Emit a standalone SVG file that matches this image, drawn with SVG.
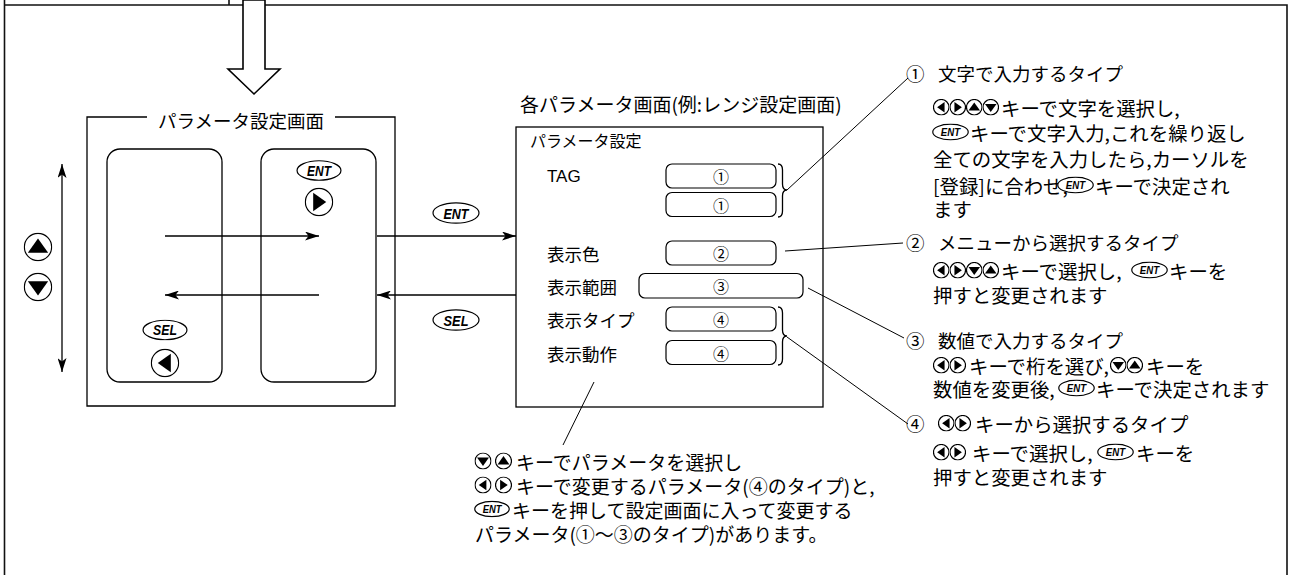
<svg xmlns="http://www.w3.org/2000/svg" xmlns:xlink="http://www.w3.org/1999/xlink" width="1289" height="575" viewBox="0 0 1289 575">
<style>
.t{font-family:"Noto Sans CJK JP","Noto Sans",sans-serif;font-size:18.5px;fill:#000;dominant-baseline:central}
.bd{font-size:19.4px}
.b{font-size:19px}
.s{font-size:17.5px}
.n{font-size:16px;text-anchor:middle}
.lat{font-family:"Liberation Sans",Arial,sans-serif;font-size:17px;fill:#000;dominant-baseline:central}
.ln{stroke:#000;fill:none;stroke-width:1.3}
.fr{stroke:#111;fill:none;stroke-width:1.6}
.fld{stroke:#000;fill:#fff;stroke-width:1.2}
.key{font-family:"Liberation Sans",Arial,sans-serif;font-weight:bold;font-style:italic;font-size:15px;text-anchor:middle;dominant-baseline:central;fill:#000}
</style>
<defs>
<marker id="ah" viewBox="0 0 14 9" refX="14" refY="4.5" markerWidth="14" markerHeight="9" markerUnits="userSpaceOnUse" orient="auto-start-reverse"><path d="M0,0 L14,4.5 L0,9 L3.5,4.5 Z" fill="#000"/></marker>
<symbol id="kU" viewBox="-10 -10 20 20"><circle r="9.4" fill="#fff" stroke="#000" stroke-width="1.2" vector-effect="non-scaling-stroke"/><path d="M0,-5.8 L7,4 L-7,4Z" fill="#000"/></symbol>
<symbol id="kD" viewBox="-10 -10 20 20"><circle r="9.4" fill="#fff" stroke="#000" stroke-width="1.2" vector-effect="non-scaling-stroke"/><path d="M0,5.8 L7,-4 L-7,-4Z" fill="#000"/></symbol>
<symbol id="kL" viewBox="-10 -10 20 20"><circle r="9.4" fill="#fff" stroke="#000" stroke-width="1.2" vector-effect="non-scaling-stroke"/><path d="M-5,0 L4,-6.3 L4,6.3Z" fill="#000"/></symbol>
<symbol id="kR" viewBox="-10 -10 20 20"><circle r="9.4" fill="#fff" stroke="#000" stroke-width="1.2" vector-effect="non-scaling-stroke"/><path d="M5,0 L-4,-6.3 L-4,6.3Z" fill="#000"/></symbol>
<symbol id="kE" viewBox="-24 -11 48 22"><ellipse rx="23" ry="10.2" fill="#fff" stroke="#000" stroke-width="1.2" vector-effect="non-scaling-stroke"/><text class="key" x="0" y="0.5" textLength="25" lengthAdjust="spacingAndGlyphs">ENT</text></symbol>
<symbol id="kS" viewBox="-24 -11 48 22"><ellipse rx="23" ry="10.2" fill="#fff" stroke="#000" stroke-width="1.2" vector-effect="non-scaling-stroke"/><text class="key" x="0" y="0.5" textLength="25" lengthAdjust="spacingAndGlyphs">SEL</text></symbol>
</defs>
<rect width="1289" height="575" fill="#fff"/>

<g id="frame">
<path class="fr" d="M4.5,0 V575 M4.5,5 H1287 V575 M229,0 V5"/>
<polygon points="243,0 243,69 228,69 254,94 280,69 265,69 265,0" fill="#fff" stroke="#000" stroke-width="1.6"/>
</g>

<g id="param-screen">
<path class="ln" d="M147,117 H87 V406 H395 V117 H335"/>
<text class="t" x="241" y="120" text-anchor="middle">パラメータ設定画面</text>
<rect class="ln" x="107" y="149" width="115" height="233" rx="13"/>
<rect class="ln" x="261" y="149" width="115" height="233" rx="13"/>
<use href="#kE" x="296" y="160" width="46" height="21"/>
<use href="#kR" x="304.5" y="187.5" width="29" height="29"/>
<use href="#kS" x="142" y="319.5" width="46" height="21"/>
<use href="#kL" x="150.5" y="348.5" width="29" height="29"/>
</g>

<g id="updown-keys">
<use href="#kU" x="23.5" y="232.5" width="29" height="29"/>
<use href="#kD" x="23.5" y="272.5" width="29" height="29"/>
</g>

<g id="range-screen">
<text class="t" x="520" y="103" style="font-size:19px">各パラメータ画面(例:レンジ設定画面)</text>
<rect class="ln" x="516" y="127" width="307" height="280"/>
<text class="t" x="530" y="140" style="font-size:16px">パラメータ設定</text>
<text class="lat" x="547" y="176">TAG</text>
<text class="t s" x="547" y="253">表示色</text>
<text class="t s" x="547" y="286">表示範囲</text>
<text class="t s" x="547" y="319">表示タイプ</text>
<text class="t s" x="547" y="353">表示動作</text>
<rect class="fld" x="666" y="164" width="110" height="24" rx="6"/>
<rect class="fld" x="666" y="192.5" width="110" height="24" rx="6"/>
<rect class="fld" x="666" y="241" width="110" height="24" rx="6"/>
<rect class="fld" x="639" y="273.5" width="164" height="24.5" rx="6"/>
<rect class="fld" x="666" y="307" width="110" height="24" rx="6"/>
<rect class="fld" x="666" y="340.5" width="110" height="24" rx="6"/>
<text class="t n" x="721" y="176">①</text>
<text class="t n" x="721" y="204.5">①</text>
<text class="t n" x="721" y="253">②</text>
<text class="t n" x="721" y="285.5">③</text>
<text class="t n" x="721" y="319">④</text>
<text class="t n" x="721" y="352.5">④</text>
<path class="ln" stroke-width="1.1" d="M778,164 Q782.5,164 782.5,170 V184 Q782.5,190 787,190 Q782.5,190 782.5,196 V211 Q782.5,217 778,217"/>
<path class="ln" stroke-width="1.1" d="M778,307 Q782.5,307 782.5,313 V330 Q782.5,336 787,336 Q782.5,336 782.5,342 V359 Q782.5,365 778,365"/>
</g>

<g id="connectors">
<line class="ln" x1="165" y1="236" x2="319" y2="236" marker-end="url(#ah)"/>
<line class="ln" x1="319" y1="295" x2="165" y2="295" marker-end="url(#ah)"/>
<line class="ln" x1="377" y1="236" x2="516" y2="236" marker-end="url(#ah)"/>
<line class="ln" x1="516" y1="295" x2="377" y2="295" marker-end="url(#ah)"/>
<line class="ln" x1="62" y1="164" x2="62" y2="372" marker-start="url(#ah)" marker-end="url(#ah)"/>
<use href="#kE" x="432" y="202" width="48" height="22"/>
<use href="#kS" x="432" y="309" width="48" height="22"/>
<g stroke="#000" stroke-width="1" fill="none">
<line x1="787" y1="190" x2="908" y2="78"/>
<line x1="785" y1="251" x2="903" y2="243"/>
<line x1="808" y1="288" x2="904" y2="338"/>
<line x1="787" y1="337" x2="908" y2="424"/>
<line x1="594" y1="382" x2="563" y2="445"/>
</g>
</g>

<g id="note-1">
<text class="t" x="906" y="73">①</text>
<text class="t" x="938" y="73">文字で入力するタイプ</text>
<use href="#kL" x="933" y="99" width="16.5" height="16.5"/>
<use href="#kR" x="949.5" y="99" width="16.5" height="16.5"/>
<use href="#kU" x="966" y="99" width="16.5" height="16.5"/>
<use href="#kD" x="982.5" y="99" width="16.5" height="16.5"/>
<text class="t bd" x="1001" y="107">キーで文字を選択し,</text>
<use href="#kE" x="932" y="123.5" width="37" height="17"/>
<text class="t bd" x="970" y="132">キーで文字入力,これを繰り返し</text>
<text class="t bd" x="933" y="158">全ての文字を入力したら,カーソルを</text>
<text class="t bd" x="933" y="185">[登録]に合わせ,</text>
<use href="#kE" x="1057" y="176.5" width="37" height="17"/>
<text class="t bd" x="1095" y="185">キーで決定され</text>
<text class="t bd" x="933" y="208">ます</text>
</g>

<g id="note-2">
<text class="t" x="906" y="242">②</text>
<text class="t" x="938" y="242">メニューから選択するタイプ</text>
<use href="#kL" x="933" y="262" width="16.5" height="16.5"/>
<use href="#kR" x="949.5" y="262" width="16.5" height="16.5"/>
<use href="#kD" x="966" y="262" width="16.5" height="16.5"/>
<use href="#kU" x="982.5" y="262" width="16.5" height="16.5"/>
<text class="t bd" x="1001" y="270">キーで選択し,</text>
<use href="#kE" x="1131" y="261.5" width="37" height="17"/>
<text class="t bd" x="1169" y="270">キーを</text>
<text class="t bd" x="933" y="294">押すと変更されます</text>
</g>

<g id="note-3">
<text class="t" x="906" y="340">③</text>
<text class="t" x="938" y="340">数値で入力するタイプ</text>
<use href="#kL" x="933" y="357" width="16.5" height="16.5"/>
<use href="#kR" x="949.5" y="357" width="16.5" height="16.5"/>
<text class="t bd" x="969" y="365">キーで桁を選び,</text>
<use href="#kD" x="1110" y="357" width="16.5" height="16.5"/>
<use href="#kU" x="1126.5" y="357" width="16.5" height="16.5"/>
<text class="t bd" x="1146" y="365">キーを</text>
<text class="t bd" x="933" y="388">数値を変更後,</text>
<use href="#kE" x="1058" y="379.5" width="37" height="17"/>
<text class="t bd" x="1096" y="388">キーで決定されます</text>
</g>

<g id="note-4">
<text class="t" x="906" y="423">④</text>
<use href="#kL" x="938" y="415" width="16.5" height="16.5"/>
<use href="#kR" x="954.5" y="415" width="16.5" height="16.5"/>
<text class="t bd" x="975" y="423">キーから選択するタイプ</text>
<use href="#kL" x="933" y="444" width="16.5" height="16.5"/>
<use href="#kR" x="949.5" y="444" width="16.5" height="16.5"/>
<text class="t bd" x="972" y="452">キーで選択し,</text>
<use href="#kE" x="1097" y="443.5" width="37" height="17"/>
<text class="t bd" x="1136" y="452">キーを</text>
<text class="t bd" x="933" y="476">押すと変更されます</text>
</g>

<g id="note-bottom">
<use href="#kD" x="474.5" y="452.5" width="17" height="17"/>
<use href="#kU" x="495" y="452.5" width="17" height="17"/>
<text class="t b" x="516" y="461">キーでパラメータを選択し</text>
<use href="#kL" x="474.5" y="476.5" width="17" height="17"/>
<use href="#kR" x="495" y="476.5" width="17" height="17"/>
<text class="t b" x="516" y="485">キーで変更するパラメータ(④のタイプ)と,</text>
<use href="#kE" x="474" y="500.5" width="36" height="17"/>
<text class="t b" x="512" y="509">キーを押して設定画面に入って変更する</text>
<text class="t b" x="475" y="533">パラメータ(①～③のタイプ)があります。</text>
</g>
</svg>
